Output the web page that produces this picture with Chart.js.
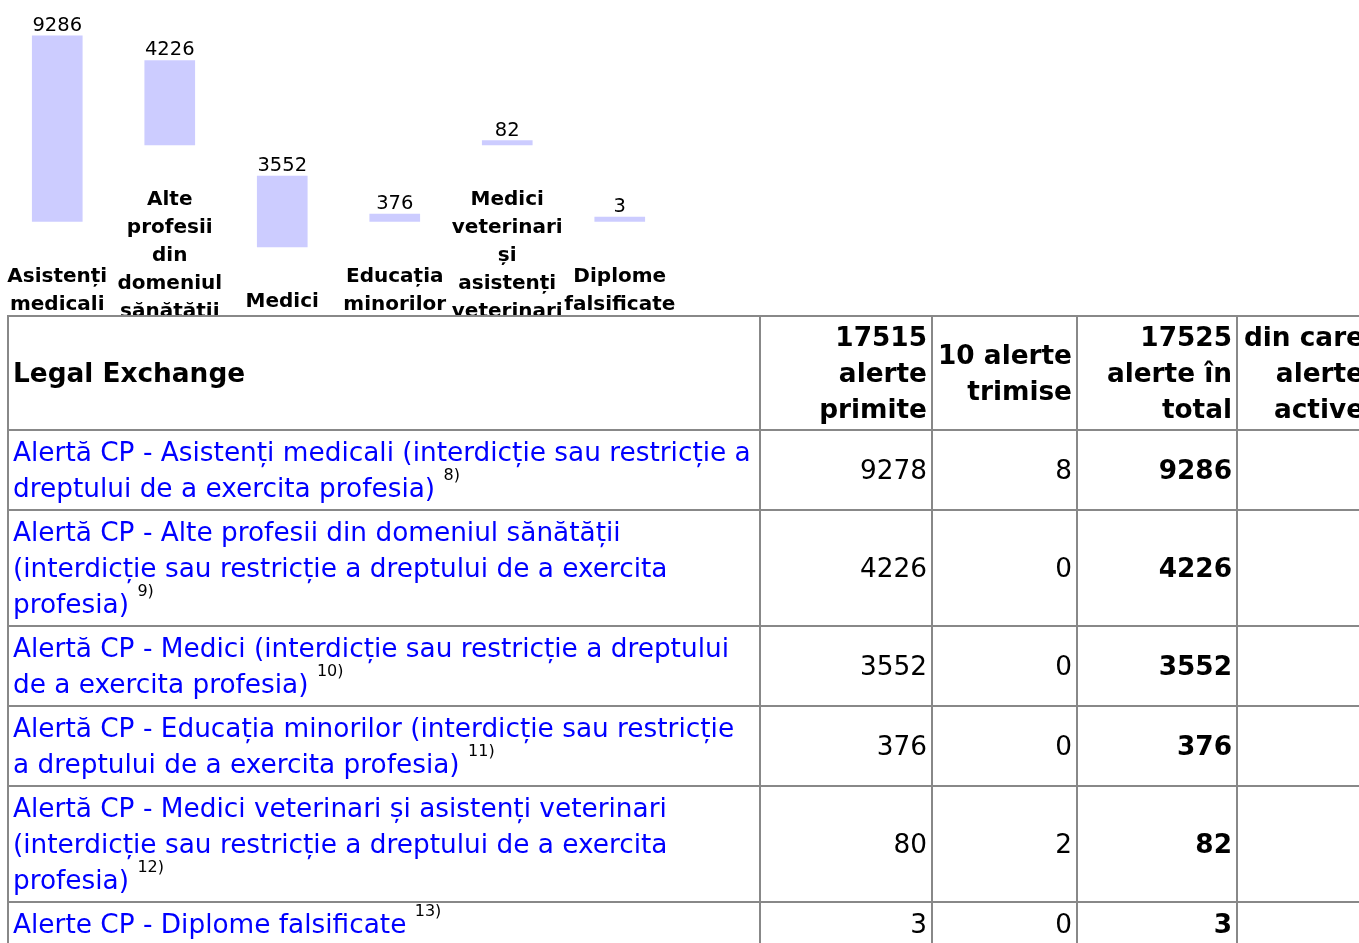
<!DOCTYPE html>
<html lang="ro">
<head>
<meta charset="utf-8">
<title>Legal Exchange - alerte CP</title>
<script src="https://cdn.jsdelivr.net/npm/chart.js@4/dist/chart.umd.min.js"></script>
<style>
  html, body { margin: 0; padding: 0; background: #fff; }
  body { width: 1359px; height: 943px; overflow: hidden; position: relative;
         font-family: "DejaVu Sans", sans-serif; color: #000; }
  #chartBox { position: absolute; left: 0; top: 0; width: 700px; height: 317px; }
  table { position: absolute; left: 7px; top: 315px; border-collapse: collapse;
          table-layout: fixed; width: 1361px; font-size: 26.35px; line-height: 36px; }
  th, td { border: 2px solid #888; padding: 3px 4px; vertical-align: middle; }
  th { font-weight: bold; text-align: right; padding-top: 2px; padding-bottom: 2px; }
  th.title { text-align: left; }
  td.num { text-align: right; }
  td.tot { text-align: right; font-weight: bold; }
  a { color: #0000ff; text-decoration: none; }
  sup { font-size: 16px; line-height: 0; vertical-align: baseline; position: relative; top: -17px; }
</style>
</head>
<body>
<div id="chartBox"><canvas id="chart" width="700" height="317"></canvas></div>
<table id="tbl">
  <colgroup>
    <col style="width:752px"><col style="width:172px"><col style="width:145px">
    <col style="width:160px"><col style="width:132px">
  </colgroup>
  <thead><tr id="headRow"></tr></thead>
  <tbody id="tbody"></tbody>
</table>
<script>
// Categories of professional-qualification alerts (label words, one per line)
const categories = [
  ["Asistenți", "medicali"],
  ["Alte", "profesii", "din", "domeniul", "sănătății"],
  ["Medici"],
  ["Educația", "minorilor"],
  ["Medici", "veterinari", "și", "asistenți", "veterinari"],
  ["Diplome", "falsificate"]
];
// Total alerts per category
const totals = [9286, 4226, 3552, 376, 82, 3];

// Table rows
const rowTitles = [
  "Alertă CP - Asistenți medicali (interdicție sau restricție a dreptului de a exercita profesia)",
  "Alertă CP - Alte profesii din domeniul sănătății (interdicție sau restricție a dreptului de a exercita profesia)",
  "Alertă CP - Medici (interdicție sau restricție a dreptului de a exercita profesia)",
  "Alertă CP - Educația minorilor (interdicție sau restricție a dreptului de a exercita profesia)",
  "Alertă CP - Medici veterinari și asistenți veterinari (interdicție sau restricție a dreptului de a exercita profesia)",
  "Alerte CP - Diplome falsificate"
];
const footnotes = [8, 9, 10, 11, 12, 13];
const received = [9278, 4226, 3552, 376, 80, 3];
const sent = [8, 0, 0, 0, 2, 0];

// ---- bar chart ----
const UNITS_PER_PX = 50;        // alerts represented by one pixel of bar height
const CANVAS_H = 317;
const LINE_H = 28;              // category label line spacing
const FIRST_BOTTOM = 247;       // bar foot for a one-line label
const LINE_SHIFT = 25.5;        // bar foot rises this much per extra label line

const barFoot = categories.map(c => FIRST_BOTTOM - LINE_SHIFT * (c.length - 1));
const barData = totals.map((v, i) => {
  const base = (CANVAS_H - barFoot[i]) * UNITS_PER_PX;
  return [base, base + v];
});

const labelPlugin = {
  id: 'barLabels',
  afterDatasetsDraw(chart) {
    const ctx = chart.ctx;
    const meta = chart.getDatasetMeta(0);
    ctx.save();
    ctx.fillStyle = '#000';
    ctx.textAlign = 'center';
    ctx.textBaseline = 'alphabetic';
    meta.data.forEach((bar, i) => {
      const top = Math.min(bar.y, bar.base);
      const bottom = Math.max(bar.y, bar.base);
      ctx.font = '19.5px "DejaVu Sans"';
      ctx.fillText(String(totals[i]), bar.x, top - 5);
      ctx.font = 'bold 20px "DejaVu Sans"';
      categories[i].forEach((word, k) => {
        ctx.fillText(word, bar.x, bottom + 60 + k * LINE_H);
      });
    });
    ctx.restore();
  }
};

new Chart(document.getElementById('chart'), {
  type: 'bar',
  data: {
    labels: categories.map(c => c.join(' ')),
    datasets: [{
      data: barData,
      backgroundColor: '#ccccff',
      borderWidth: 0,
      barThickness: 50,
      minBarLength: 4.5
    }]
  },
  options: {
    responsive: false,
    animation: false,
    layout: { padding: { left: 1, right: 24, top: 0, bottom: 0 } },
    plugins: { legend: { display: false }, tooltip: { enabled: false } },
    scales: {
      x: { display: false },
      y: { display: false, min: 0, max: CANVAS_H * UNITS_PER_PX }
    }
  },
  plugins: [labelPlugin]
});

// ---- table ----
const sum = a => a.reduce((s, v) => s + v, 0);
const totalRow = received.map((v, i) => v + sent[i]);
const head = document.getElementById('headRow');
head.innerHTML =
  '<th class="title">Legal Exchange</th>' +
  `<th>${sum(received)} alerte primite</th>` +
  `<th>${sum(sent)} alerte trimise</th>` +
  `<th>${sum(totalRow)} alerte în total</th>` +
  '<th>din care alerte active</th>';
const tbody = document.getElementById('tbody');
rowTitles.forEach((t, i) => {
  const tr = document.createElement('tr');
  tr.innerHTML =
    `<td><a href="#">${t}</a> <sup>${footnotes[i]})</sup></td>` +
    `<td class="num">${received[i]}</td>` +
    `<td class="num">${sent[i]}</td>` +
    `<td class="tot">${totalRow[i]}</td>` +
    '<td></td>';
  tbody.appendChild(tr);
});
</script>
</body>
</html>
